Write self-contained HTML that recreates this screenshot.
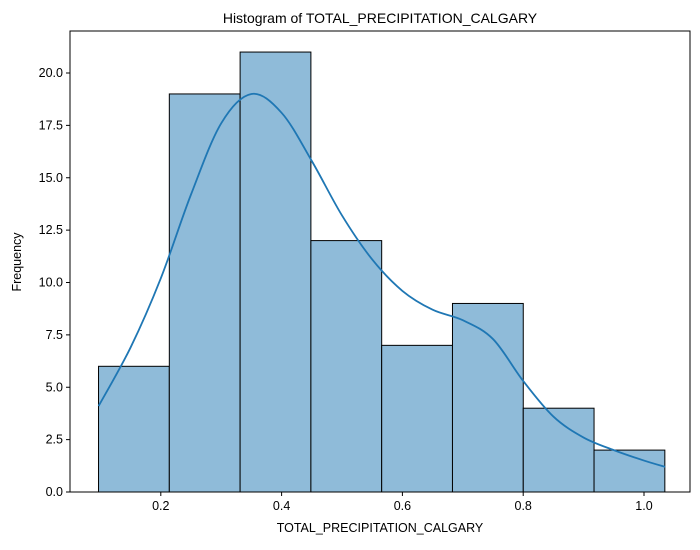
<!DOCTYPE html>
<html><head><meta charset="utf-8"><style>
body{margin:0;background:#fff}
svg text{font-family:"Liberation Sans",sans-serif;fill:#000}
</style></head><body>
<svg id="chart" width="700" height="545"></svg>
<script>
const binCounts=[6,19,21,12,7,9,4,2];
const binStart=0.0969, binWidth=0.1172;
const kdeX=[0.097,0.15,0.2,0.25,0.3,0.35,0.4,0.45,0.5,0.55,0.6,0.65,0.7,0.75,0.8,0.85,0.9,0.95,1.0,1.035];
const kdeY=[4.1,6.9,10.2,14.2,17.6,19.0,18.1,15.8,13.2,11.1,9.6,8.7,8.2,7.3,5.3,3.6,2.6,2.0,1.5,1.2];
const xTicks=[0.2,0.4,0.6,0.8,1.0];
const yTicks=[0,2.5,5,7.5,10,12.5,15,17.5,20];
const L=70,R=690,T=31,B=492;
const X=v=>40+604*v, Y=v=>B-v*20.95;
const svg=document.getElementById('chart');const NS='http://www.w3.org/2000/svg';
function mk(t,a,p){const e=document.createElementNS(NS,t);for(const k in a)e.setAttribute(k,a[k]);(p||svg).appendChild(e);return e;}
binCounts.forEach((c,i)=>{const x0=X(binStart+i*binWidth),x1=X(binStart+(i+1)*binWidth);
const r=mk('rect',{x:x0,y:Y(c),width:x1-x0,height:B-Y(c),fill:'#8fbbd9',stroke:'#000','stroke-width':1});

});
const P=kdeX.map((x,i)=>[X(x),Y(kdeY[i])]);
let d='M'+P[0][0]+','+P[0][1];
for(let i=0;i<P.length-1;i++){const p0=P[Math.max(0,i-1)],p1=P[i],p2=P[i+1],p3=P[Math.min(P.length-1,i+2)];
const c1=[p1[0]+(p2[0]-p0[0])/6,p1[1]+(p2[1]-p0[1])/6],c2=[p2[0]-(p3[0]-p1[0])/6,p2[1]-(p3[1]-p1[1])/6];
d+=' C'+c1+' '+c2+' '+p2;}
const pl=mk('path',{d:d,fill:'none',stroke:'#1f77b4','stroke-width':1.8});


const fr=mk('rect',{x:L,y:T,width:R-L,height:B-T,fill:'none',stroke:'#000','stroke-width':1});


xTicks.forEach(v=>{mk('line',{x1:X(v),x2:X(v),y1:B,y2:B+4,stroke:'#000'});
const t=mk('text',{x:X(v),y:B+18,'text-anchor':'middle','font-size':12.5});t.textContent=v.toFixed(1);

});
yTicks.forEach(v=>{mk('line',{x1:L-4,x2:L,y1:Y(v),y2:Y(v),stroke:'#000'});
const t=mk('text',{x:L-7,y:Y(v)+4,'text-anchor':'end','font-size':12.5});t.textContent=v.toFixed(1);

});
let t=mk('text',{x:380,y:23,'text-anchor':'middle','font-size':14});t.textContent='Histogram of TOTAL_PRECIPITATION_CALGARY';


t=mk('text',{x:380,y:532,'text-anchor':'middle','font-size':12.5});t.textContent='TOTAL_PRECIPITATION_CALGARY';


t=mk('text',{x:21,y:262,'text-anchor':'middle','font-size':12.5,transform:'rotate(-90 21 262)'});t.textContent='Frequency';


</script>
</body></html>
